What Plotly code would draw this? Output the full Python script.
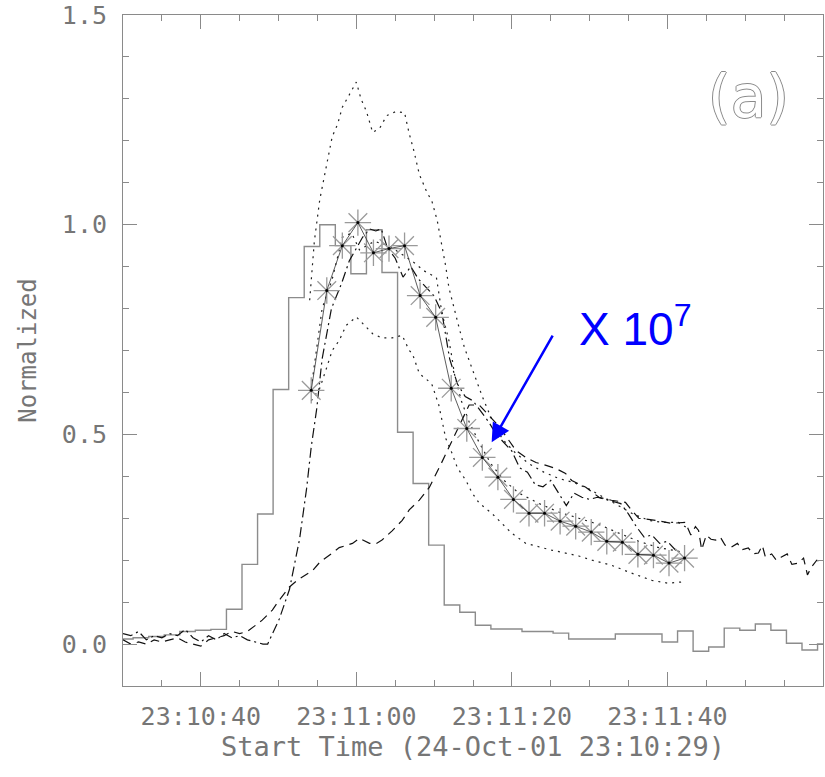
import plotly.graph_objects as go
import pandas as pd

# ---------------- data (seconds after 23:10:00 on 24-Oct-01) ----------------
BASE = pd.Timestamp("2001-10-24 23:10:00")

# solid gray stepped curve (2 s bins, value at bin start)
sol_t = [29.3, 31.3, 33.3, 35.3, 37.3, 39.3, 41.3, 43.3, 45.3, 47.3, 49.3, 51.3,
         53.3, 55.3, 57.3, 59.3, 61.3, 63.3, 65.3, 67.3, 69.3, 71.3, 73.3, 75.3,
         77.3, 79.3, 81.3, 83.3, 85.3, 87.3, 89.3, 91.3, 93.3, 95.3, 97.3, 99.3,
         101.3, 103.3, 105.3, 107.3, 109.3, 111.3, 113.3, 115.3, 117.3, 119.3, 120.0]
sol_v = [0.012, 0.015, 0.018, 0.022, 0.03, 0.033, 0.035, 0.083, 0.19, 0.31, 0.607, 0.826,
         0.948, 1.0, 0.95, 0.883, 0.988, 0.886, 0.505, 0.383, 0.236, 0.093, 0.076, 0.045,
         0.036, 0.036, 0.03, 0.03, 0.026, 0.012, 0.012, 0.012, 0.024, 0.024, 0.024, 0.005,
         0.031, -0.017, -0.007, 0.038, 0.033, 0.048, 0.033, 0.002, -0.014, 0.0, 0.0]

# tall dotted curve
b_t = [54.0, 54.6, 55.3, 56.3, 56.9, 57.6, 58.2, 59.1, 60.0, 60.6, 61.3, 62.1, 63.0, 63.9,
       65.1, 66.2, 66.8, 67.4, 68.1, 69.1, 69.7, 70.4, 70.9, 71.5, 71.9, 72.6, 73.2, 73.9,
       74.5, 75.4, 76.2, 77.1, 78.0, 79.2, 80.5, 82.2, 84.1, 86.0, 88.0, 89.9, 91.8, 93.7,
       95.6, 97.6, 99.5, 101.4, 102.7]
b_v = [0.82, 0.96, 1.06, 1.15, 1.21, 1.24, 1.28, 1.31, 1.34, 1.30, 1.27, 1.22, 1.23, 1.26,
       1.27, 1.267, 1.217, 1.176, 1.12, 1.076, 1.057, 1.01, 0.96, 0.90, 0.85, 0.795, 0.755, 0.707,
       0.676, 0.63, 0.59, 0.55, 0.51, 0.48, 0.455, 0.43, 0.41, 0.395, 0.385, 0.37, 0.35, 0.33,
       0.31, 0.295, 0.29, 0.29, 0.275]

# middle dotted curve
m_t = [54.2, 55.0, 55.6, 56.9, 58.2, 59.4, 60.4, 62.3, 64.2, 66.2, 67.4, 68.7, 70.3, 71.0,
       71.5, 71.9, 72.3, 72.6, 73.5, 74.5, 75.8, 77.3, 79.0, 80.9, 83.5, 86.0, 88.6, 91.2,
       93.7, 96.3, 98.9, 101.8]
m_v = [0.61, 0.72, 0.80, 0.87, 0.97, 0.98, 0.94, 0.96, 0.95, 0.925, 0.91, 0.89, 0.874, 0.79,
       0.755, 0.724, 0.683, 0.645, 0.58, 0.53, 0.48, 0.43, 0.39, 0.36, 0.335, 0.315, 0.30, 0.285,
       0.265, 0.245, 0.23, 0.22]

# lower dotted curve
c_t = [54.2, 55.3, 56.2, 56.9, 57.8, 58.7, 60.0, 61.0, 62.1, 63.3, 64.6, 65.9, 66.8, 67.2,
       68.1, 69.1, 69.7, 70.6, 71.5, 72.2, 73.0, 74.1, 74.9, 75.8, 77.4, 78.7, 80.0, 81.8,
       83.5, 85.1, 86.9, 88.6, 90.3, 92.8, 95.4, 98.0, 100.1, 101.8]
c_v = [0.58, 0.61, 0.66, 0.70, 0.724, 0.76, 0.78, 0.76, 0.74, 0.73, 0.73, 0.736, 0.70, 0.693,
       0.645, 0.63, 0.62, 0.57, 0.49, 0.46, 0.42, 0.39, 0.36, 0.336, 0.312, 0.288, 0.264, 0.24,
       0.231, 0.224, 0.217, 0.21, 0.2, 0.188, 0.169, 0.152, 0.145, 0.148]

# dash-dot curve
d_t = [30, 31, 32, 33, 34, 35, 36, 37, 38, 39, 40, 41, 42, 43, 44, 45, 46, 47, 48,
       48.6, 50.1, 51.4, 52.7, 53.6, 54.2, 54.9, 55.6, 56.8, 58.1, 59.1, 60.8,
       61.7, 62.5, 63.2,
       64, 65, 66, 67, 68, 69, 70, 71, 72, 73, 74, 75, 76, 77, 78, 79, 80, 81, 82,
       83, 84, 85, 86, 87, 88, 89, 90, 91, 92, 93, 94, 95, 96, 97, 98, 99, 100, 101,
       101.5]
d_v = [0.025, 0.02, 0.03, 0.01, 0.02, 0.015, 0.025, 0.02, 0.035, 0.015, 0.005, 0.02, 0.01,
       0.025, 0.015, 0.02, 0.01, 0.005, 0.0,
       0.0, 0.06, 0.13, 0.25, 0.37, 0.47, 0.56, 0.68, 0.80, 0.86, 0.914, 0.97,
       0.99, 0.985, 0.99,
       0.945, 0.92, 0.875, 0.9, 0.87, 0.85, 0.83, 0.79, 0.68, 0.62, 0.59, 0.58, 0.555, 0.53,
       0.5, 0.48, 0.46, 0.42, 0.41, 0.38, 0.375, 0.39, 0.36, 0.33, 0.36, 0.35, 0.345, 0.35,
       0.345, 0.34, 0.335, 0.31, 0.28, 0.255, 0.26, 0.24, 0.245, 0.225,
       0.22]

# dashed curve (the "X 10^7" one)
e_t = [30, 31, 32, 33, 34, 35, 36, 37, 38, 39, 40, 41, 42, 43, 44, 45, 46,
       46.7, 47.9, 49.2, 50.1, 51.4, 52.4, 54.4, 55.3, 56.9, 57.8, 59.5, 60.4, 61.7, 62.6,
       63.3, 64.6, 65.9, 66.8, 68.1, 69.4, 70.9, 72.2, 73.2, 74.5, 75.8, 77.1, 78.3, 79.6,
       80.5, 81.8, 83.1, 84.4, 85.6, 86.9, 87.7, 89.5, 91.2, 92.8, 94.6, 95.4, 96.3, 98.5,
       100.5, 102.3, 103.0, 103.6, 104.0, 104.4, 105.0, 105.6, 106.2, 106.8, 107.4, 108.2,
       109.0, 109.6, 110.4, 111.0, 111.7, 112.2, 112.6, 113.4, 114.0, 114.6, 115.4, 116.0,
       116.8, 117.5, 118.0, 118.5, 119.2, 120.0]
e_v = [0.01, 0.0, 0.005, 0.0, 0.01, 0.005, 0.01, 0.015, 0.005, 0.0, -0.005, 0.01, 0.015,
       0.02, 0.03, 0.025, 0.03,
       0.04, 0.057, 0.081, 0.105, 0.136, 0.152, 0.176, 0.195, 0.217, 0.23, 0.24, 0.252, 0.24,
       0.24, 0.248, 0.27, 0.295, 0.32, 0.343, 0.374, 0.43, 0.48, 0.517, 0.57, 0.57, 0.545, 0.52,
       0.486, 0.462, 0.445, 0.433, 0.426, 0.419, 0.407, 0.39, 0.374, 0.35, 0.343, 0.338, 0.319,
       0.3, 0.295, 0.288, 0.29, 0.26, 0.28, 0.271, 0.225, 0.26, 0.25, 0.248, 0.255, 0.236,
       0.231, 0.24, 0.225, 0.229, 0.215, 0.217, 0.235, 0.207, 0.215, 0.2, 0.207, 0.215, 0.19,
       0.193, 0.205, 0.165, 0.183, 0.2, 0.193]

# asterisk series (2 s cadence)
s_t = [54.2, 56.2, 58.2, 60.2, 62.2, 64.2, 66.2, 68.2, 70.2, 72.2, 74.2, 76.2, 78.2,
       80.2, 82.2, 84.2, 86.2, 88.2, 90.2, 92.2, 94.2, 96.2, 98.2, 100.2, 102.2]
s_v = [0.605, 0.843, 0.95, 1.005, 0.933, 0.943, 0.95, 0.831, 0.779, 0.61, 0.514, 0.445,
       0.398, 0.345, 0.312, 0.312, 0.293, 0.281, 0.267, 0.245, 0.243, 0.214, 0.212, 0.193,
       0.205]

X_RANGE = [30, 120]
Y_RANGE = [-0.1, 1.5]
Y_TICKS = [0.0, 0.5, 1.0, 1.5]
ARROW_TIP = (77.4, 0.481)


def to_time(secs):
    return [BASE + pd.Timedelta(seconds=float(s)) for s in secs]


AX = "#8a8a8a"
TXT = "#767676"
MONO = "DejaVu Sans Mono"
STAR = "#9a9a9a"

fig = go.Figure()

fig.add_trace(go.Scatter(x=to_time(sol_t), y=sol_v, mode="lines", line_shape="hv",
                         line=dict(color="#8c8c8c", width=1.4), showlegend=False))
fig.add_trace(go.Scatter(x=to_time(b_t), y=b_v, mode="lines",
                         line=dict(color="#222", width=1.2, dash="2px,5px"), showlegend=False))
fig.add_trace(go.Scatter(x=to_time(m_t), y=m_v, mode="lines",
                         line=dict(color="#222", width=1.2, dash="2px,5px"), showlegend=False))
fig.add_trace(go.Scatter(x=to_time(c_t), y=c_v, mode="lines",
                         line=dict(color="#222", width=1.2, dash="2px,5px"), showlegend=False))
fig.add_trace(go.Scatter(x=to_time(d_t), y=d_v, mode="lines",
                         line=dict(color="#111", width=1.2, dash="10px,4px,2px,4px"), showlegend=False))
fig.add_trace(go.Scatter(x=to_time(e_t), y=e_v, mode="lines",
                         line=dict(color="#111", width=1.2, dash="9px,6px"), showlegend=False))
fig.add_trace(go.Scatter(x=to_time(s_t), y=s_v, mode="markers",
                         marker=dict(symbol="asterisk-open", size=22, color=STAR,
                                     line=dict(color=STAR, width=1.3)),
                         showlegend=False))
fig.add_trace(go.Scatter(x=to_time(s_t), y=s_v, mode="lines+markers",
                         line=dict(color="#333", width=0.8),
                         marker=dict(symbol="circle", size=3, color="#000"),
                         showlegend=False))

fig.update_layout(
    width=825, height=777,
    margin=dict(l=123, r=1, t=13, b=91),
    paper_bgcolor="white", plot_bgcolor="white",
    xaxis=dict(
        type="date",
        range=to_time(X_RANGE),
        tickmode="linear", tick0=to_time([40])[0], dtick=20000,
        tickformat="%H:%M:%S",
        ticks="inside", ticklen=14, tickwidth=1, tickcolor=AX,
        minor=dict(dtick=5000, tick0=to_time([30])[0], ticks="inside", ticklen=6,
                   tickcolor=AX, tickwidth=1, showgrid=False),
        showline=True, linecolor=AX, linewidth=1, mirror="ticks",
        showgrid=False, zeroline=False,
        tickfont=dict(family=MONO, size=25, color=TXT),
        ticklabelstandoff=8,
        title=dict(text="Start Time (24-Oct-01 23:10:29)",
                   font=dict(family=MONO, size=27, color=TXT), standoff=6),
    ),
    yaxis=dict(
        range=Y_RANGE,
        tickmode="array", tickvals=Y_TICKS, ticktext=[f"{v:.1f}" for v in Y_TICKS],
        ticks="inside", ticklen=14, tickwidth=1, tickcolor=AX,
        minor=dict(dtick=0.1, tick0=0, tickmode="linear", ticks="inside", ticklen=6,
                   tickcolor=AX, tickwidth=1, showgrid=False),
        showline=True, linecolor=AX, linewidth=1, mirror="ticks",
        showgrid=False, zeroline=False,
        tickfont=dict(family=MONO, size=25, color=TXT),
        ticklabelstandoff=10, ticklabeloverflow="allow",
        title=dict(text="Normalized", font=dict(family=MONO, size=24, color=TXT), standoff=18),
    ),
)

fig.add_annotation(
    text="(a)", xref="paper", yref="paper", x=0.894, y=0.878,
    xanchor="center", yanchor="middle", showarrow=False,
    font=dict(family="DejaVu Sans", size=58, color="white",
              shadow="1px 0 0 #8a8a8a, -1px 0 0 #8a8a8a, 0 1px 0 #8a8a8a, 0 -1px 0 #8a8a8a"),
)
fig.add_annotation(
    text="X 10<sup>7</sup>", xref="paper", yref="paper", x=0.649, y=0.536,
    xanchor="left", yanchor="middle", showarrow=False,
    font=dict(family="Liberation Sans", size=46, color="#0000ff"),
)
fig.add_annotation(
    text=" ", x=to_time([ARROW_TIP[0]])[0], y=ARROW_TIP[1], xref="x", yref="y",
    showarrow=True, ax=64, ay=-112, arrowhead=2, arrowsize=1.5, arrowwidth=2.5,
    arrowcolor="#0000ff", standoff=0,
)

fig.write_html("out.html")
